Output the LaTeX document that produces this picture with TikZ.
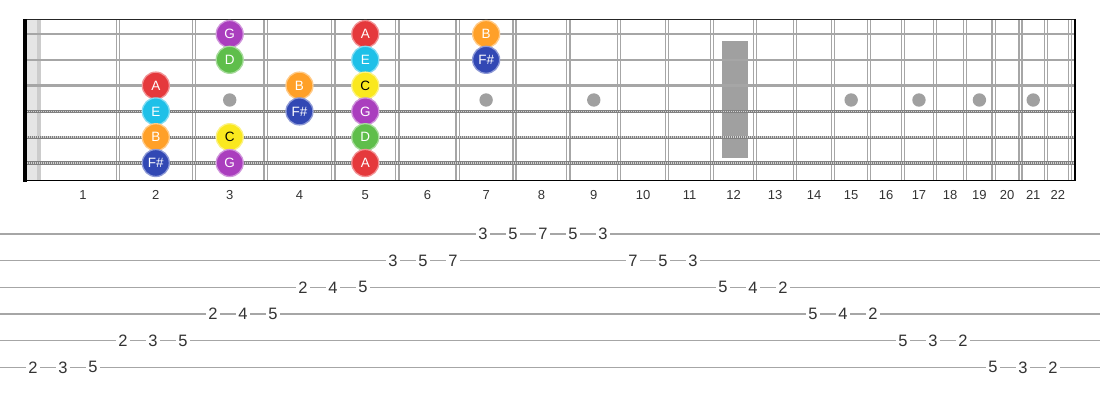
\documentclass[tikz,border=0pt]{standalone}
\usepackage{fontspec}
\setmainfont{Liberation Sans}
\usetikzlibrary{positioning}

\definecolor{colA}{RGB}{229,57,60}
\definecolor{colB}{RGB}{255,160,40}
\definecolor{colC}{RGB}{250,232,30}
\definecolor{colD}{RGB}{95,190,75}
\definecolor{colE}{RGB}{30,192,232}
\definecolor{colF}{RGB}{50,72,180}
\definecolor{colG}{RGB}{170,62,190}
\definecolor{inlay}{RGB}{160,160,160}

\tikzset{
  note/.style={circle, minimum size=27pt, inner sep=0pt, line width=1.3pt, text=white, font=\fontsize{13.5}{13.5}\selectfont},
  noteA/.style={note, fill=colA, draw=colA!55!white},
  noteB/.style={note, fill=colB, draw=colB!55!white},
  noteC/.style={note, fill=colC, draw=colC!55!white, text=black},
  noteD/.style={note, fill=colD, draw=colD!55!white},
  noteE/.style={note, fill=colE, draw=colE!55!white},
  noteF/.style={note, fill=colF, draw=colF!55!white},
  noteG/.style={note, fill=colG, draw=colG!55!white},
  fretnum/.style={text=black!80, font=\fontsize{13}{13}\selectfont},
  tabnum/.style={fill=white, inner sep=2.5pt, text=black!80, font=\fontsize{16.5}{16.5}\selectfont},
  tabline/.style={gray!70, line width=1.5pt},
}
\newcommand{\fretx}[1]{37.5+1435*(1-exp(-0.0577623*(#1)))}

\begin{document}
\begin{tikzpicture}[x=1pt,y=-1pt]
        \useasboundingbox (0,0) rectangle (1100,400);
        % fretboard
        \fill[gray!20] (27,19) rectangle (41,181);
        \fill[gray!40] (37,19) rectangle (41,181);
        \fill[inlay] (722,41) rectangle (748,158);
        \foreach \f in {3,5,7,9,15,17,19,21}{
          \pgfmathsetmacro\xm{(\fretx{\f-1}+\fretx{\f})/2}
          \fill[inlay] (\xm,100) circle [radius=6.7];
        }
        \foreach \f in {1,...,22}{
          \pgfmathsetmacro\xf{\fretx{\f}}
          \draw[gray!70, line width=4.5pt] (\xf,20) -- (\xf,180);
          \draw[white, line width=1.8pt] (\xf,20) -- (\xf,180);
          \pgfmathsetmacro\xm{(\f==1 ? 48 : \fretx{\f-1})/2+\xf/2}
          \node[fretnum] (f\f) at (\xm,195) {\f};
        }
        \foreach \s in {1,2,3}{
          \draw[gray!70, line width=2.4pt] (23,{34+25.8*(\s-1)}) -- (1075,{34+25.8*(\s-1)});
        }
        \foreach \s in {4,5,6}{
          \draw[gray, line width=3.4pt] (23,{34+25.8*(\s-1)}) -- (1075,{34+25.8*(\s-1)});
          \draw[white!65!gray, line width=1.6pt, dash pattern=on 1pt off 1pt] (23,{34+25.8*(\s-1)}) -- (1075,{34+25.8*(\s-1)});
        }
        \fill[black] (22.5,19) rectangle (27,181.5);
        \draw[black!85, line width=1.5pt] (27,19.5) -- (1075,19.5);
        \draw[black, line width=1.5pt] (27,180.5) -- (1075,180.5);
        \draw[black, line width=2pt] (1075,18.8) -- (1075,181.2);
        % notes
        \foreach \s/\f/\c/\t in {1/3/G/G, 1/5/A/A, 1/7/B/B, 2/3/D/D, 2/5/E/E, 2/7/F/F\#,
                                 3/2/A/A, 3/4/B/B, 3/5/C/C, 4/2/E/E, 4/4/F/F\#, 4/5/G/G,
                                 5/2/B/B, 5/3/C/C, 5/5/D/D, 6/2/F/F\#, 6/3/G/G, 6/5/A/A}{
          \pgfmathsetmacro\xm{(\fretx{\f-1}+\fretx{\f})/2}
          \node[note\c] (n\s-\f) at (\xm,{34+25.8*(\s-1)}) {\t};
        }
        % tab
        \foreach \s in {1,...,6}{
          \draw[tabline] (0,{234+26.67*(\s-1)}) -- (1100,{234+26.67*(\s-1)});
        }
        \foreach \s/\n [count=\k from 0] in {6/2,6/3,6/5,5/2,5/3,5/5,4/2,4/4,4/5,3/2,3/4,3/5,
                                             2/3,2/5,2/7,1/3,1/5,1/7,1/5,1/3,2/7,2/5,2/3,
                                             3/5,3/4,3/2,4/5,4/4,4/2,5/5,5/3,5/2,6/5,6/3,6/2}{
          \node[tabnum] (t\k) at ({33+30*\k},{234+26.67*(\s-1)}) {\n};
        }
        \end{tikzpicture}
\end{document}
